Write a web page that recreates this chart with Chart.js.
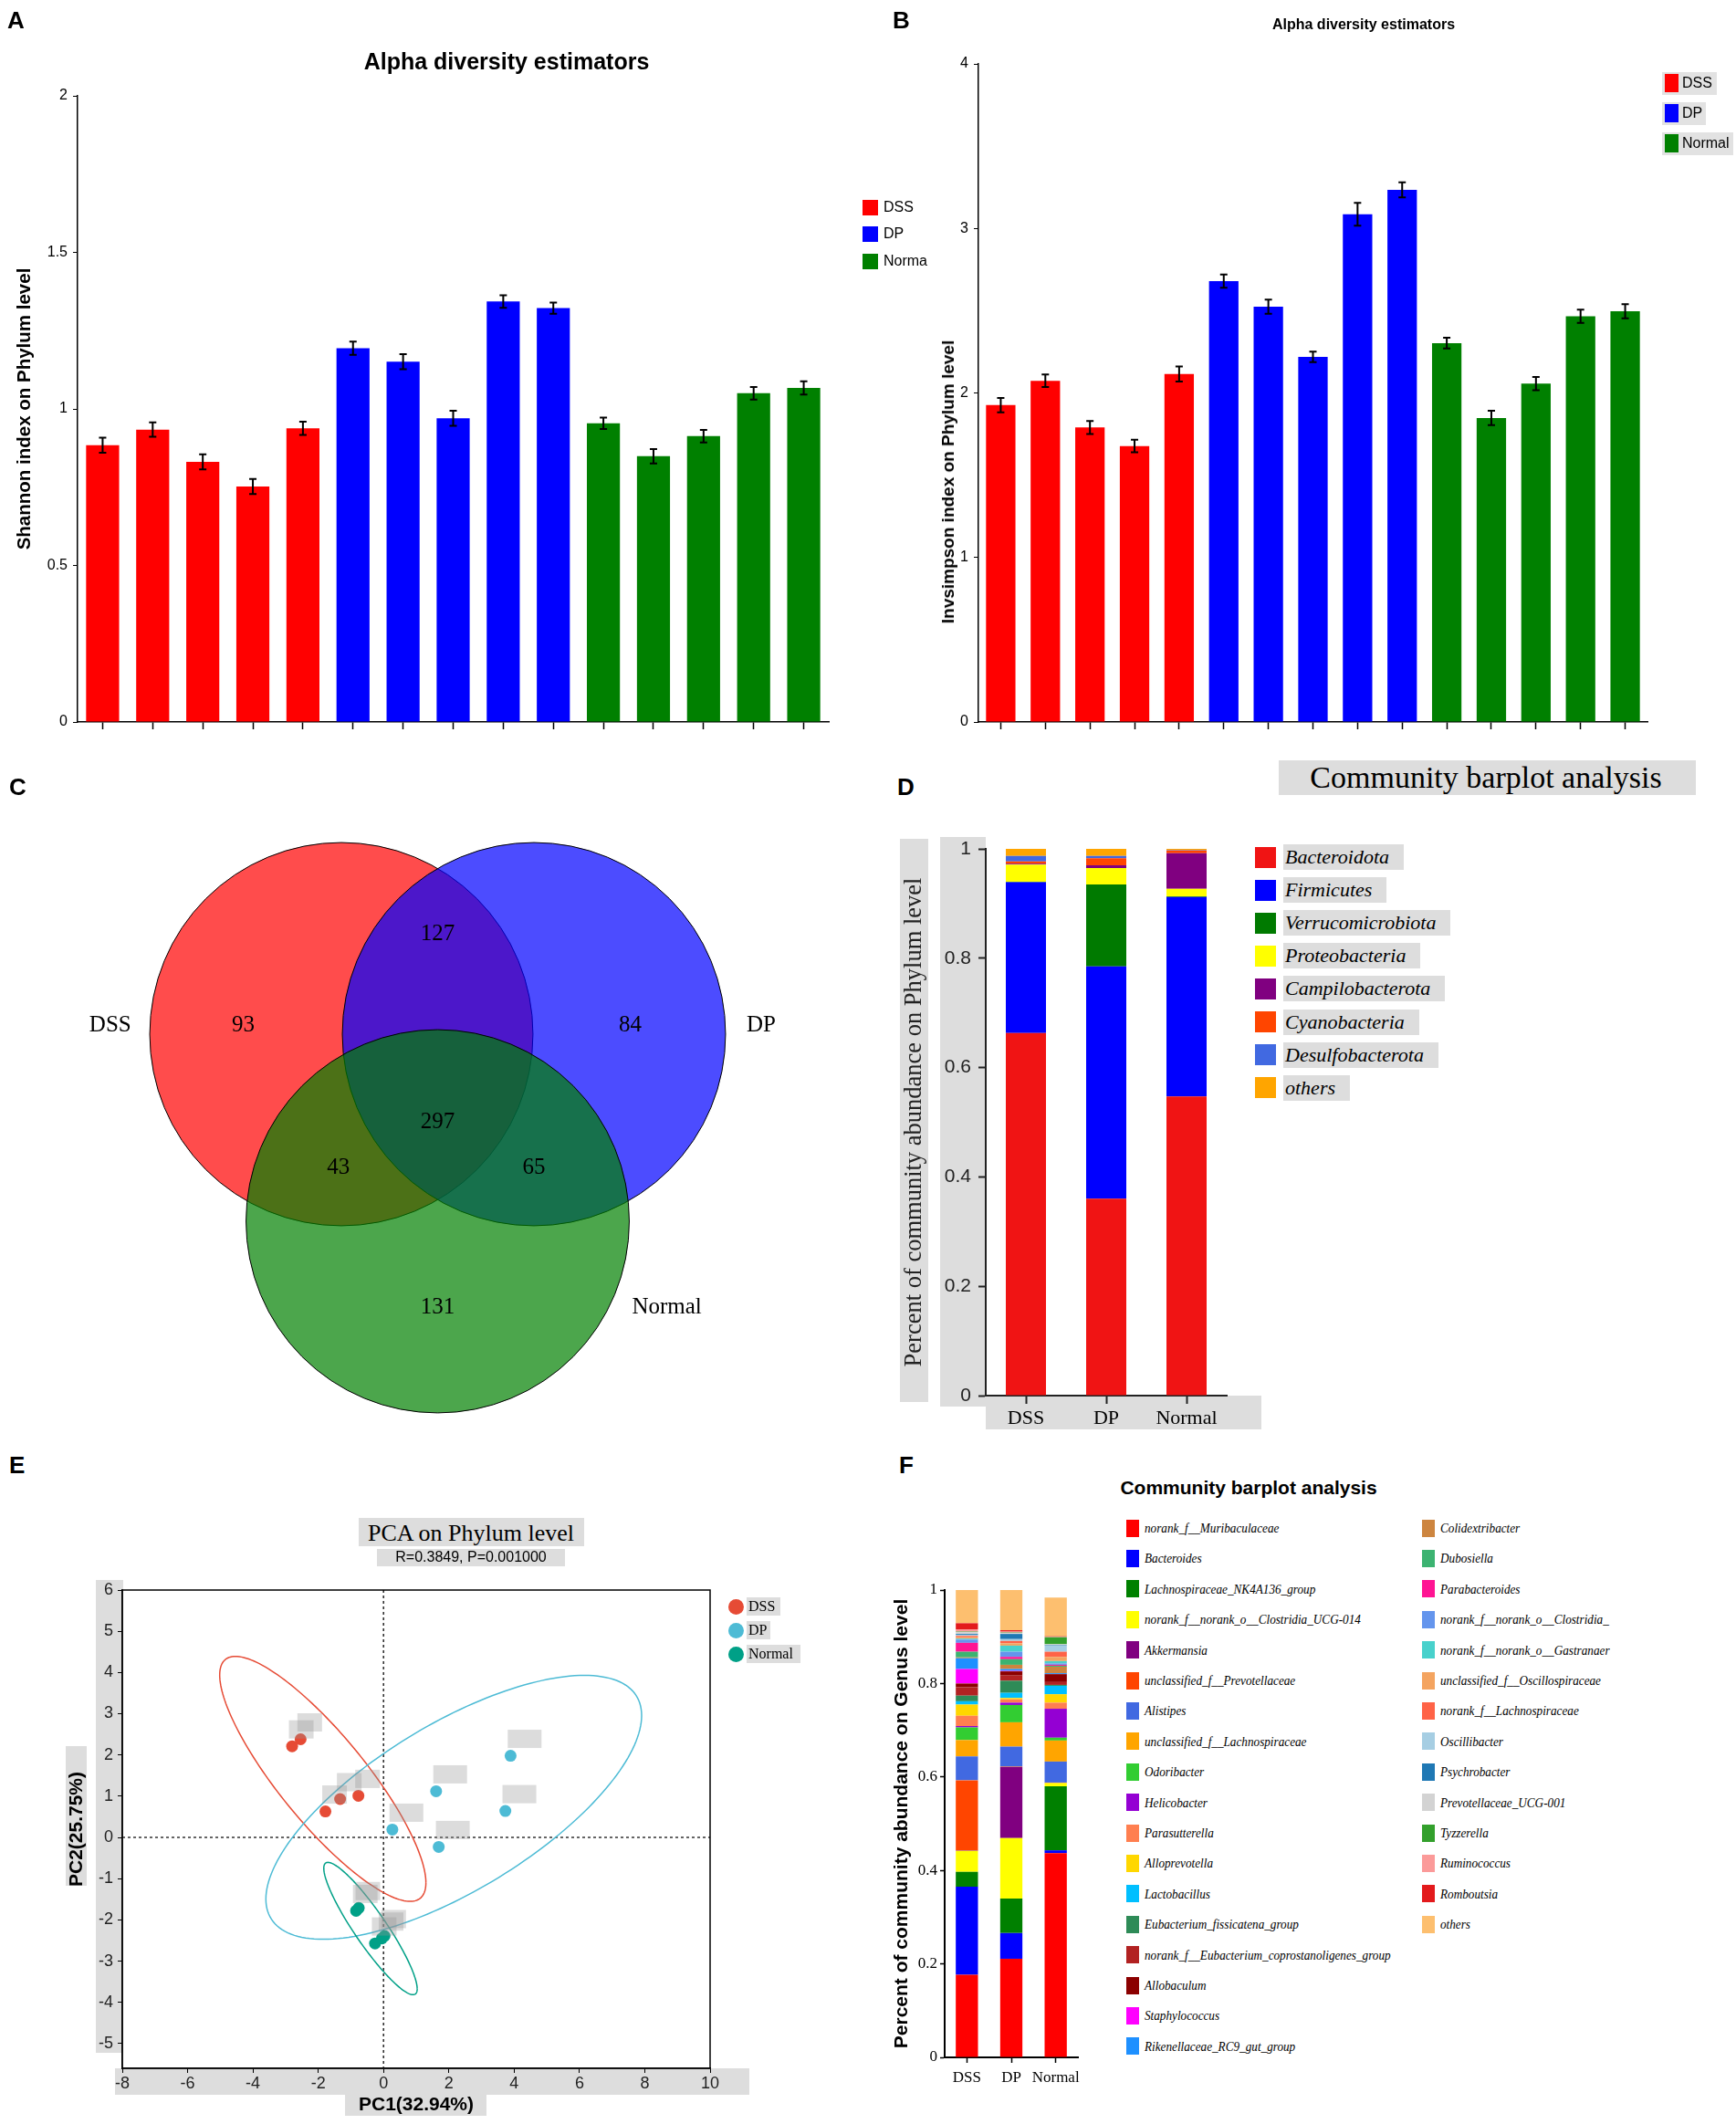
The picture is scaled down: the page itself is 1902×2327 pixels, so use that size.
<!DOCTYPE html>
<html>
<head>
<meta charset="utf-8">
<title>Alpha diversity, Venn, PCA and community barplots</title>
<script src="https://cdn.jsdelivr.net/npm/chart.js@4.4.0/dist/chart.umd.min.js"></script>
<style>
  body { margin: 0; background: #fff; }
  #page { position: relative; width: 1902px; height: 2327px; overflow: hidden; background: #fff; }
  canvas { position: absolute; z-index: 1; }
  .t { position: absolute; white-space: nowrap; color: #000; z-index: 2; line-height: 1; }
  .box { position: absolute; background: #dddddd; z-index: 0; }
  .sw { position: absolute; z-index: 2; }
</style>
</head>
<body>
<div id="page"></div>
<script>
// ---------- data ----------
var samples = ['DSS1', 'DSS2', 'DSS3', 'DSS4', 'DSS5', 'DP1', 'DP2', 'DP3', 'DP4', 'DP5',
  'Normal1', 'Normal2', 'Normal3', 'Normal4', 'Normal5'];
var sampleGroup = [0, 0, 0, 0, 0, 1, 1, 1, 1, 1, 2, 2, 2, 2, 2];
var groups = ['DSS', 'DP', 'Normal'];

var shannon = [0.884, 0.934, 0.831, 0.752, 0.938, 1.194, 1.151, 0.970, 1.343, 1.322, 0.954, 0.849, 0.913, 1.050, 1.067];
var shannonErr = [0.024, 0.023, 0.024, 0.024, 0.021, 0.021, 0.024, 0.024, 0.020, 0.018, 0.018, 0.023, 0.020, 0.020, 0.021];
var invsimpson = [1.926, 2.074, 1.790, 1.677, 2.115, 2.680, 2.524, 2.219, 3.086, 3.234, 2.303, 1.848, 2.057, 2.466, 2.497];
var invsimpsonErr = [0.044, 0.038, 0.040, 0.038, 0.046, 0.040, 0.043, 0.032, 0.070, 0.046, 0.032, 0.044, 0.040, 0.040, 0.043];

// venn regions: DSS only, DSS&DP, DP only, all three, DSS&Normal, DP&Normal, Normal only
var vennRegions = ['DSS', 'DSS&DP', 'DP', 'DSS&DP&Normal', 'DSS&Normal', 'DP&Normal', 'Normal'];
var vennCounts = [93, 127, 84, 297, 43, 65, 131];

var phyla = ['Bacteroidota', 'Firmicutes', 'Verrucomicrobiota', 'Proteobacteria',
  'Campilobacterota', 'Cyanobacteria', 'Desulfobacterota', 'others'];
var phylumDSS = [0.663, 0.276, 0.001, 0.031, 0.002, 0.004, 0.010, 0.013];
var phylumDP = [0.360, 0.425, 0.150, 0.030, 0.005, 0.013, 0.004, 0.013];
var phylumNormal = [0.547, 0.365, 0.001, 0.014, 0.065, 0.005, 0.001, 0.002];

var pcaDSSx = [-2.80, -2.54, -1.78, -1.33, -0.77];
var pcaDSSy = [2.21, 2.38, 0.63, 0.93, 1.01];
var pcaDPx = [0.27, 1.61, 1.69, 3.73, 3.89];
var pcaDPy = [0.19, 1.12, -0.23, 0.64, 1.98];
var pcaNormalx = [-0.84, -0.76, -0.26, -0.05, 0.03];
var pcaNormaly = [-1.78, -1.71, -2.57, -2.45, -2.39];
// confidence ellipses: centre and shape matrix per group
var ellipseCx = [-1.86, 2.15, -0.40];
var ellipseCy = [1.42, 0.73, -2.21];
var ellipseSxx = [9.97, 33.1, 2.045];
var ellipseSxy = [-7.95, 12.8, -2.09];
var ellipseSyy = [8.83, 10.24, 2.576];

var genera = ['norank_f__Muribaculaceae', 'Bacteroides', 'Lachnospiraceae_NK4A136_group',
  'norank_f__norank_o__Clostridia_UCG-014', 'Akkermansia', 'unclassified_f__Prevotellaceae',
  'Alistipes', 'unclassified_f__Lachnospiraceae', 'Odoribacter', 'Helicobacter', 'Parasutterella',
  'Alloprevotella', 'Lactobacillus', 'Eubacterium_fissicatena_group',
  'norank_f__Eubacterium_coprostanoligenes_group', 'Allobaculum', 'Staphylococcus',
  'Rikenellaceae_RC9_gut_group', 'Colidextribacter', 'Dubosiella', 'Parabacteroides',
  'norank_f__norank_o__Clostridia_', 'norank_f__norank_o__Gastranaer', 'unclassified_f__Oscillospiraceae',
  'norank_f__Lachnospiraceae', 'Oscillibacter', 'Psychrobacter', 'Prevotellaceae_UCG-001',
  'Tyzzerella', 'Ruminococcus', 'Romboutsia', 'others'];
var genusDSS = [0.177, 0.188, 0.032, 0.045, 0.001, 0.150, 0.051, 0.035, 0.027, 0.003, 0.022, 0.024, 0.007, 0.012, 0.018, 0.008,
  0.031, 0.023, 0.002, 0.012, 0.019, 0.007, 0.002, 0.003, 0.003, 0.002, 0.002, 0.004, 0.001, 0.005, 0.013, 0.071];
var genusDP = [0.211, 0.055, 0.074, 0.129, 0.152, 0.001, 0.043, 0.052, 0.037, 0.005, 0.007, 0.003, 0.011, 0.026, 0.011, 0.009,
  0.001, 0.004, 0.009, 0.012, 0.005, 0.011, 0.013, 0.005, 0.005, 0.004, 0.011, 0.002, 0.001, 0.002, 0.003, 0.086];
var genusNormal = [0.437, 0.006, 0.137, 0.007, 0.000, 0.001, 0.045, 0.045, 0.006, 0.062, 0.013, 0.018, 0.018, 0.002, 0.006, 0.017,
  0.000, 0.002, 0.014, 0.002, 0.002, 0.003, 0.005, 0.009, 0.011, 0.013, 0.001, 0.002, 0.015, 0.001, 0.001, 0.083];

// ---------- styles ----------
var SANS = '"Liberation Sans", Arial, sans-serif';
var SERIF = '"Liberation Serif", "Times New Roman", serif';
var groupColors = ['#ff0000', '#0000ff', '#008000'];
var vennColors = ['rgba(255,0,0,0.7)', 'rgba(0,0,255,0.7)', 'rgba(0,128,0,0.7)'];
var pcaColors = ['#e64b35', '#4dbbd5', '#00a087'];
var phylumColors = ['#f01414', '#0000ff', '#007a00', '#ffff00', '#800080', '#ff4500', '#4169e1', '#ffa500'];
var genusColors = ['#ff0000', '#0000ff', '#008000', '#ffff00', '#800080', '#ff4500', '#4169e1', '#ffa500',
  '#32cd32', '#9400d3', '#ff7f50', '#ffd700', '#00bfff', '#2e8b57', '#b22222', '#8b0000', '#ff00ff',
  '#1e90ff', '#cd853f', '#3cb371', '#ff1493', '#6495ed', '#48d1cc', '#f4a460', '#ff6347', '#a6cee3',
  '#1f78b4', '#d3d3d3', '#33a02c', '#fb9a99', '#e31a1c', '#fdbf6f'];

var vennLayout = {
  unitX: 105.5, unitY: 102.5, originX: 479.5, originY: 375.5, radius: 1.99,
  centerX: [-1, 1, 0], centerY: [1, 1, -1],
  countX: [-2.02, 0, 2.0, 0, -1.03, 1.0, 0], countY: [1.09, 2.07, 1.09, 0.06, -0.43, -0.43, -1.92],
  nameX: [-3.40, 3.36, 2.38], nameY: [1.09, 1.09, -1.92]
};

Chart.defaults.font.family = SANS;
Chart.defaults.color = '#000';
Chart.defaults.animation = false;
Chart.defaults.responsive = false;
Chart.defaults.plugins.legend.display = false;
Chart.defaults.plugins.tooltip.enabled = false;

var page = document.getElementById('page');

function plainTick(v) {
  return String(Math.round(v * 100) / 100);
}

function makeCanvas(left, top, w, h) {
  var c = document.createElement('canvas');
  c.width = w;
  c.height = h;
  c.style.left = left + 'px';
  c.style.top = top + 'px';
  c.style.width = w + 'px';
  c.style.height = h + 'px';
  page.appendChild(c);
  return c.getContext('2d');
}

// anchor: 'c' centre, 'l' left edge / vertical middle
function addText(text, x, y, font, anchor, rot, sx) {
  var el = document.createElement('div');
  el.className = 't';
  el.textContent = text;
  el.style.font = font;
  el.style.left = x + 'px';
  el.style.top = y + 'px';
  var tr = anchor === 'l' ? 'translate(0,-50%)' : 'translate(-50%,-50%)';
  if (rot) tr += ' rotate(' + rot + 'deg)';
  if (sx) {
    tr += ' scaleX(' + sx + ')';
    el.style.transformOrigin = anchor === 'l' ? 'left center' : 'center center';
  }
  el.style.transform = tr;
  page.appendChild(el);
  return el;
}

function addBox(x, y, w, h, color) {
  var el = document.createElement('div');
  el.className = 'box';
  el.style.left = x + 'px';
  el.style.top = y + 'px';
  el.style.width = w + 'px';
  el.style.height = h + 'px';
  if (color) el.style.background = color;
  page.appendChild(el);
  return el;
}

function addSwatch(x, y, w, h, color, round) {
  var el = document.createElement('div');
  el.className = 'sw';
  el.style.left = x + 'px';
  el.style.top = (y - h / 2) + 'px';
  el.style.width = w + 'px';
  el.style.height = h + 'px';
  el.style.background = color;
  if (round) el.style.borderRadius = '50%';
  page.appendChild(el);
}

// ---------- plugins ----------
var errorBars = {
  id: 'errorBars',
  afterDatasetsDraw: function(chart) {
    var ctx = chart.ctx;
    var ds = chart.data.datasets[0];
    var meta = chart.getDatasetMeta(0);
    var y = chart.scales.y;
    ctx.save();
    ctx.strokeStyle = '#000';
    ctx.lineWidth = 2;
    meta.data.forEach(function(bar, i) {
      var top = y.getPixelForValue(ds.data[i] + ds.errors[i]);
      var bot = y.getPixelForValue(ds.data[i] - ds.errors[i]);
      var cap = 4;
      ctx.beginPath();
      ctx.moveTo(bar.x, top); ctx.lineTo(bar.x, bot);
      ctx.moveTo(bar.x - cap, top); ctx.lineTo(bar.x + cap, top);
      ctx.moveTo(bar.x - cap, bot); ctx.lineTo(bar.x + cap, bot);
      ctx.stroke();
    });
    ctx.restore();
  }
};

var vennText = {
  id: 'vennText',
  afterDatasetsDraw: function(chart) {
    var ctx = chart.ctx, sx = chart.scales.x, sy = chart.scales.y;
    ctx.save();
    ctx.fillStyle = '#000';
    ctx.font = '25px ' + SERIF;
    ctx.textAlign = 'center';
    ctx.textBaseline = 'middle';
    vennCounts.forEach(function(n, i) {
      ctx.fillText(String(n), sx.getPixelForValue(vennLayout.countX[i]), sy.getPixelForValue(vennLayout.countY[i]));
    });
    groups.forEach(function(g, i) {
      ctx.fillText(g, sx.getPixelForValue(vennLayout.nameX[i]), sy.getPixelForValue(vennLayout.nameY[i]));
    });
    ctx.restore();
  }
};

var pcaDecor = {
  id: 'pcaDecor',
  beforeDatasetsDraw: function(chart) {
    var ctx = chart.ctx, sx = chart.scales.x, sy = chart.scales.y, a = chart.chartArea;
    ctx.save();
    ctx.strokeStyle = '#333';
    ctx.lineWidth = 1.6;
    ctx.setLineDash([3, 3]);
    ctx.beginPath();
    ctx.moveTo(sx.getPixelForValue(0), a.top); ctx.lineTo(sx.getPixelForValue(0), a.bottom);
    ctx.moveTo(a.left, sy.getPixelForValue(0)); ctx.lineTo(a.right, sy.getPixelForValue(0));
    ctx.stroke();
    ctx.setLineDash([]);
    ctx.lineWidth = 1.5;
    for (var g = 0; g < 3; g++) {
      var ux = Math.sqrt(ellipseSxx[g]);
      var uy = ellipseSxy[g] / ux;
      var vy = Math.sqrt(ellipseSyy[g] - uy * uy);
      ctx.strokeStyle = pcaColors[g];
      ctx.beginPath();
      for (var k = 0; k <= 180; k++) {
        var t = k / 180 * 2 * Math.PI;
        var px = sx.getPixelForValue(ellipseCx[g] + ux * Math.cos(t));
        var py = sy.getPixelForValue(ellipseCy[g] + uy * Math.cos(t) + vy * Math.sin(t));
        if (k === 0) ctx.moveTo(px, py); else ctx.lineTo(px, py);
      }
      ctx.stroke();
    }
    ctx.restore();
  },
  afterDatasetsDraw: function(chart) {
    var ctx = chart.ctx, sx = chart.scales.x, sy = chart.scales.y, a = chart.chartArea;
    var boxW = [27, 37, 27], boxDx = [0.28, 0.43, 0.28], boxDy = 0.41, boxH = 20;
    ctx.save();
    ctx.fillStyle = 'rgba(150,150,150,0.33)';
    chart.data.datasets.forEach(function(ds, g) {
      ds.data.forEach(function(p) {
        var cx = sx.getPixelForValue(p.x + boxDx[g]);
        var cy = sy.getPixelForValue(p.y + boxDy);
        ctx.fillRect(cx - boxW[g] / 2, cy - boxH / 2, boxW[g], boxH);
      });
    });
    ctx.strokeStyle = '#000';
    ctx.lineWidth = 1.5;
    ctx.strokeRect(a.left, a.top, a.right - a.left, a.bottom - a.top);
    ctx.restore();
  }
};

// ---------- A / B alpha diversity ----------
function printAlphaChart(ctx, values, errs, ymax, step, yTitle, yTitleShow, pad, yWidth, titlePad) {
  new Chart(ctx, {
    type: 'bar',
    data: {
      labels: samples,
      datasets: [{
        data: values,
        errors: errs,
        backgroundColor: sampleGroup.map(function(g) { return groupColors[g]; }),
        barPercentage: 0.66,
        categoryPercentage: 1
      }]
    },
    options: {
      layout: { padding: pad },
      scales: {
        x: {
          grid: { drawOnChartArea: false, offset: false, tickLength: 8, color: '#000', tickWidth: 1.5 },
          border: { color: '#000', width: 1.5 },
          ticks: { callback: function() { return ''; } },
          afterFit: function(s) { s.height = 39; }
        },
        y: {
          min: 0,
          max: ymax,
          ticks: { stepSize: step, padding: 6, font: { size: 16 }, callback: plainTick },
          grid: { drawOnChartArea: false, tickLength: 5, color: '#000' },
          border: { color: '#000', width: 1.5 },
          title: { display: yTitleShow, text: yTitle, font: { size: 20.5, weight: 'bold' }, padding: { top: titlePad } },
          afterFit: function(s) { s.width = yWidth; }
        }
      }
    },
    plugins: [errorBars]
  });
}

printAlphaChart(makeCanvas(0, 0, 940, 830), shannon, shannonErr, 2, 0.5,
  'Shannon index on Phylum level', true, { left: 0, right: 32, top: 105, bottom: 0 }, 85, 15);
printAlphaChart(makeCanvas(951, 0, 951, 830), invsimpson, invsimpsonErr, 4, 1,
  'Invsimpson index on Phylum level', false, { left: 0, right: 97, top: 70, bottom: 0 }, 121, 0);

addText('A', 8, 22, 'bold 26px ' + SANS, 'l');
addText('Alpha diversity estimators', 555, 67, 'bold 25px ' + SANS, 'c');
groups.forEach(function(g, i) {
  var y = [227, 256, 286][i];
  addSwatch(945, y, 17, 17, groupColors[i]);
  addText(i === 2 ? 'Norma' : g, 968, y, '16px ' + SANS, 'l');
});

addText('B', 978, 22, 'bold 26px ' + SANS, 'l');
addText('Alpha diversity estimators', 1494, 27, 'bold 16px ' + SANS, 'c');
addText('Invsimpson index on Phylum level', 1039, 528, 'bold 19px ' + SANS, 'c', -90);
groups.forEach(function(g, i) {
  var y = [91, 124, 157][i];
  addBox(1821, y - 12, [60, 48, 78][i], 25, '#e2e2e2');
  addSwatch(1824, y, 15, 20, groupColors[i]);
  addText(g, 1843, y, '16px ' + SANS, 'l');
});

// ---------- C venn ----------
(function() {
  var W = 940, H = 720;
  var rPx = vennLayout.radius * vennLayout.unitX;
  new Chart(makeCanvas(0, 860, W, H), {
    type: 'bubble',
    data: {
      datasets: groups.map(function(g, i) {
        return {
          label: g,
          data: [{ x: vennLayout.centerX[i], y: vennLayout.centerY[i], r: rPx }],
          backgroundColor: vennColors[i],
          borderColor: '#000',
          borderWidth: 1,
          hoverRadius: 0,
          order: 3 - i,
          clip: false
        };
      })
    },
    options: {
      layout: { padding: 0, autoPadding: false },
      scales: {
        x: { display: false, min: -vennLayout.originX / vennLayout.unitX, max: (W - vennLayout.originX) / vennLayout.unitX },
        y: { display: false, min: -(H - vennLayout.originY) / vennLayout.unitY, max: vennLayout.originY / vennLayout.unitY }
      }
    },
    plugins: [vennText]
  });
})();
addText('C', 10, 862, 'bold 26px ' + SANS, 'l');

// ---------- D phylum barplot ----------
var chartD = new Chart(makeCanvas(951, 880, 440, 700), {
  type: 'bar',
  data: {
    labels: groups,
    datasets: phyla.map(function(p, i) {
      return {
        label: p,
        data: [phylumDSS[i], phylumDP[i], phylumNormal[i]],
        backgroundColor: phylumColors[i],
        barPercentage: 0.5,
        categoryPercentage: 1
      };
    })
  },
  options: {
    layout: { padding: { left: 0, right: 47, top: 50, bottom: 0 } },
    scales: {
      x: {
        stacked: true,
        grid: { drawOnChartArea: false, offset: false, tickLength: 9, color: '#222', tickWidth: 2 },
        border: { color: '#222', width: 2 },
        ticks: { padding: 3, maxRotation: 0, autoSkip: false, font: { family: SERIF, size: 22 } },
        afterFit: function(s) { s.height = 51; }
      },
      y: {
        stacked: true,
        min: 0,
        max: 1,
        ticks: { stepSize: 0.2, padding: 8, font: { size: 21 }, color: '#222', callback: plainTick },
        grid: { drawOnChartArea: false, tickLength: 8, color: '#222', tickWidth: 2 },
        border: { color: '#222', width: 2 },
        title: { display: true, text: 'Percent of community abundance on Phylum level',
          font: { family: SERIF, size: 26.5 }, color: '#222', padding: { top: 35 } },
        afterFit: function(s) { s.width = 129; }
      }
    }
  }
});
addText('D', 983, 862, 'bold 26px ' + SANS, 'l');
addBox(1401, 833, 457, 38);
addText('Community barplot analysis', 1628, 852, '34px ' + SERIF, 'c');
addBox(986, 919, 31, 617);
addBox(1030, 917, 50, 624);
addBox(1080, 1529, 302, 37);
chartD.data.datasets.forEach(function(ds, i) {
  var y = 939 + 36.1 * i;
  addSwatch(1375, y, 23, 23, ds.backgroundColor);
  var el = addText(ds.label, 1406, y, 'italic 22px ' + SERIF, 'l');
  el.style.background = '#dddddd';
  el.style.padding = '1px 16px 1px 2px';
  el.style.zIndex = 1;
});

// ---------- E PCA ----------
var pcaX = [pcaDSSx, pcaDPx, pcaNormalx];
var pcaY = [pcaDSSy, pcaDPy, pcaNormaly];
var chartE = new Chart(makeCanvas(0, 1700, 800, 627), {
  type: 'scatter',
  data: {
    datasets: groups.map(function(g, i) {
      return {
        label: g,
        data: pcaX[i].map(function(x, k) { return { x: x, y: pcaY[i][k] }; }),
        backgroundColor: pcaColors[i],
        borderWidth: 0,
        pointRadius: 6.5
      };
    })
  },
  options: {
    layout: { padding: { left: 0, right: 22, top: 42, bottom: 0 } },
    scales: {
      x: {
        type: 'linear',
        min: -8,
        max: 10,
        ticks: { stepSize: 2, padding: 1, font: { size: 18 }, color: '#222' },
        grid: { drawOnChartArea: false, tickLength: 5, color: '#000' },
        border: { color: '#000', width: 1.5 },
        title: { display: true, text: 'PC1(32.94%)', font: { size: 21, weight: 'bold' }, padding: { top: 0, bottom: 8 } },
        afterFit: function(s) { s.height = 61; }
      },
      y: {
        min: -5.6,
        max: 6,
        ticks: { stepSize: 1, includeBounds: false, padding: 5, font: { size: 18 }, color: '#222' },
        grid: { drawOnChartArea: false, tickLength: 5, color: '#000' },
        border: { color: '#000', width: 1.5 },
        title: { display: true, text: 'PC2(25.75%)', font: { size: 21, weight: 'bold' }, padding: { top: 72 } },
        afterFit: function(s) { s.width = 134; }
      }
    }
  },
  plugins: [pcaDecor]
});
addText('E', 10, 1605, 'bold 26px ' + SANS, 'l');
addBox(393, 1663, 247, 31);
addText('PCA on Phylum level', 516, 1680, '26px ' + SERIF, 'c');
addBox(413, 1697, 206, 19);
addText('R=0.3849, P=0.001000', 516, 1706, '16px ' + SANS, 'c');
addBox(105, 1731, 30, 518);
addBox(126, 2266, 695, 29);
addBox(378, 2295, 155, 23);
addBox(72, 1913, 23, 153);
chartE.data.datasets.forEach(function(ds, i) {
  var y = [1760, 1786, 1812][i];
  addBox(818, y - 10, [37, 26, 59][i], 20);
  addSwatch(798, y, 17, 17, ds.backgroundColor, true);
  addText(ds.label, 820, y, '16px ' + SERIF, 'l');
});

// ---------- F genus barplot ----------
var chartF = new Chart(makeCanvas(940, 1700, 260, 627), {
  type: 'bar',
  data: {
    labels: groups,
    datasets: genera.map(function(name, i) {
      return {
        label: name,
        data: [genusDSS[i], genusDP[i], genusNormal[i]],
        backgroundColor: genusColors[i],
        barPercentage: 0.5,
        categoryPercentage: 1
      };
    })
  },
  options: {
    layout: { padding: { left: 0, right: 19, top: 42, bottom: 0 } },
    scales: {
      x: {
        stacked: true,
        grid: { drawOnChartArea: false, offset: false, tickLength: 6, color: '#000', tickWidth: 1.5 },
        border: { color: '#000', width: 2 },
        ticks: { padding: 6, maxRotation: 0, autoSkip: false, font: { family: SERIF, size: 17 } },
        afterFit: function(s) { s.height = 73; }
      },
      y: {
        stacked: true,
        min: 0,
        max: 1,
        ticks: { stepSize: 0.2, padding: 3, font: { family: SERIF, size: 17 }, callback: plainTick },
        grid: { drawOnChartArea: false, tickLength: 5, color: '#000', tickWidth: 1.5 },
        border: { color: '#000', width: 2 },
        title: { display: true, text: 'Percent of community abundance on Genus level',
          font: { size: 21, weight: 'bold' }, padding: { top: 36 } },
        afterFit: function(s) { s.width = 95; }
      }
    }
  }
});
addText('F', 985, 1605, 'bold 26px ' + SANS, 'l');
addText('Community barplot analysis', 1368, 1630, 'bold 21px ' + SANS, 'c');
chartF.data.datasets.forEach(function(ds, i) {
  var col = i < 18 ? 0 : 1;
  var row = col === 0 ? i : i - 18;
  var y = 1674 + 33.4 * row;
  var x = col === 0 ? 1234 : 1558;
  addSwatch(x, y, 14, 19, ds.backgroundColor);
  addText(ds.label, x + 20, y, 'italic 15px ' + SERIF, 'l', 0, 0.88);
});
</script>
</body>
</html>
